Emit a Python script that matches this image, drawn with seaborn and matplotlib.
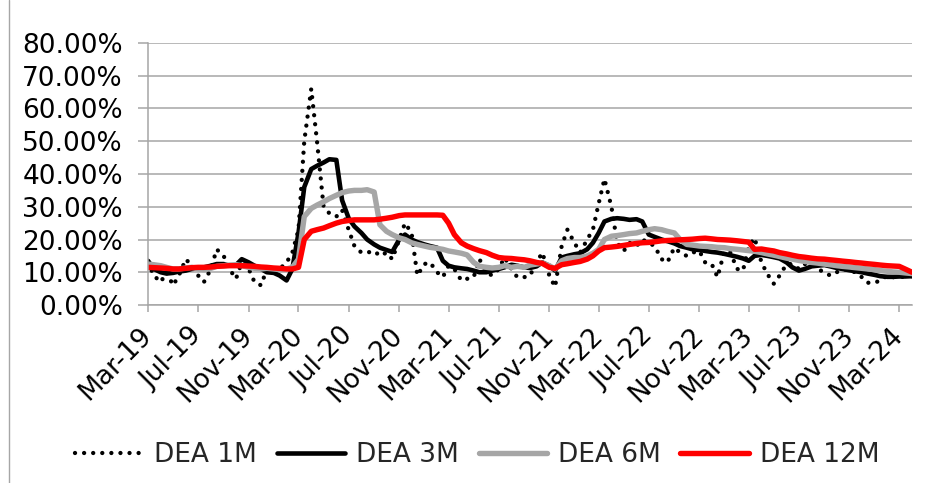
import matplotlib
matplotlib.use("Agg")
import matplotlib.pyplot as plt
import matplotlib.dates as mdates
from matplotlib.ticker import PercentFormatter, FixedLocator
from matplotlib.lines import Line2D
import seaborn as sns
import pandas as pd

# ---------------- data (percent) ----------------
dates = pd.date_range("2019-03-01", periods=123, freq="SMS")

dea_1m = [13, 9, 7, 10, 6, 9, 14, 12, 9, 7, 11, 17, 15, 11, 8, 13, 11, 7, 6, 11,
          10, 11, 13, 16, 23, 50, 66, 50, 30, 28, 27, 29, 23, 18, 16, 16, 16.5, 15, 16, 14,
          20, 25, 22, 9, 12.5, 13, 10, 8.5, 12, 11, 7.5, 8, 8.5, 14, 10, 9, 11, 14.5, 11, 8.5,
          8.5, 9, 13, 16, 9, 5.5, 18, 23, 19, 16, 20, 23, 31, 38.5, 30, 19, 16.5, 19, 18, 20,
          19, 18, 14, 13, 17.5, 16, 15, 16, 16.5, 13, 12.5, 8.5, 16.5, 16, 11, 10.5, 18, 20.5, 13, 9.5,
          6.5, 9, 12.5, 12.5, 11, 12.5, 12.5, 11, 10, 9, 10, 11, 10.5, 10, 8.5, 6.8, 6.8, 7.5, 9, 8.5,
          8.5, 8.7, 8.8]

dea_3m = [13.5, 11.0, 10.0, 9.6, 9.8, 10.2, 10.5, 11.0, 11.2, 11.5, 12.0, 12.5, 12.5, 12.0, 12.2, 14.0, 13.0, 12.0, 11.0, 10.0,
          9.8, 9.0, 7.5, 11.0, 22.0, 36.0, 41.5, 42.5, 43.5, 44.5, 44.3, 32.0, 26.5, 24.0, 22.0, 20.0, 18.5, 17.5, 16.8, 16.2,
          20.0, 21.5, 20.0, 19.2, 18.5, 18.0, 17.5, 13.5, 12.0, 11.5, 11.2, 11.0, 10.5, 10.0, 10.0, 10.5, 11.0, 11.5, 12.3, 12.0,
          11.5, 11.3, 11.8, 13.0, 12.0, 10.5, 14.5, 15.0, 15.5, 15.8, 17.0, 19.0, 22.0, 25.5, 26.3, 26.5, 26.3, 26.0, 26.2, 25.5,
          21.5, 20.8, 20.0, 19.5, 18.8, 18.0, 17.5, 17.0, 16.8, 16.5, 16.2, 16.0, 15.6, 15.2, 14.7, 14.2, 13.5, 15.0, 15.3, 15.0,
          14.6, 14.2, 13.0, 11.5, 10.5, 11.0, 11.8, 12.0, 12.2, 11.8, 11.3, 11.0, 10.6, 10.3, 10.0, 9.6, 9.2, 8.8, 8.6, 8.6,
          8.7, 8.7, 8.8]

dea_6m = [12.5, 12.3, 12.0, 11.5, 11.0, 11.0, 11.3, 11.5, 11.0, 10.8, 11.2, 11.8, 12.0, 12.2, 12.3, 12.0, 11.5, 11.2, 11.0, 11.2,
          11.0, 10.8, 11.0, 11.5, 14.0, 27.0, 29.5, 30.5, 31.5, 32.5, 33.5, 34.3, 34.8, 35.0, 35.0, 35.2, 34.5, 24.5, 22.5, 21.5,
          20.5, 20.0, 19.0, 18.5, 18.0, 17.6, 17.3, 17.0, 16.5, 16.2, 15.8, 15.3, 13.0, 11.8, 11.5, 11.3, 11.5, 12.0, 11.5, 11.8,
          11.5, 12.2, 12.5, 12.8, 12.0, 11.0, 13.5, 14.2, 14.5, 14.5, 15.0, 15.8, 17.0, 20.0, 21.0, 21.2, 21.5, 21.8, 22.0, 22.5,
          23.0, 23.3, 23.0, 22.5, 22.0, 20.0, 18.5, 18.3, 18.0, 17.9, 17.8, 17.6, 17.5, 17.2, 17.0, 16.8, 16.6, 16.4, 16.0, 15.6,
          15.2, 14.8, 14.3, 14.0, 13.6, 13.3, 13.0, 12.8, 12.5, 12.3, 12.0, 11.8, 11.6, 11.4, 11.2, 11.0, 10.8, 10.5, 10.3, 10.1,
          10.0, 9.8, 9.6]

dea_12m = [11.5, 11.4, 11.3, 11.2, 11.0, 11.0, 11.2, 11.4, 11.5, 11.5, 11.6, 11.8, 11.9, 12.0, 12.0, 12.0, 11.9, 11.8, 11.6, 11.5,
           11.3, 11.2, 11.0, 11.0, 11.5, 20.0, 22.5, 23.0, 23.5, 24.2, 25.0, 25.5, 25.8, 26.0, 26.0, 26.0, 26.0, 26.2, 26.5, 26.8,
           27.3, 27.5, 27.5, 27.5, 27.5, 27.5, 27.5, 27.4, 25.0, 21.5, 19.0, 18.0, 17.2, 16.6, 16.0, 15.2, 14.5, 14.3, 14.2, 14.0,
           13.8, 13.5, 13.0, 12.7, 11.5, 11.2, 12.3, 12.6, 13.0, 13.3, 14.0, 15.0, 16.5, 17.5, 17.7, 17.9, 18.2, 18.5, 18.8, 19.0,
           19.1, 19.3, 19.6, 19.7, 19.8, 19.9, 20.0, 20.1, 20.3, 20.4, 20.2, 20.0, 19.9, 19.8, 19.6, 19.4, 19.2, 17.0, 17.1, 16.8,
           16.5, 16.0, 15.6, 15.2, 14.8, 14.6, 14.3, 14.1, 14.0, 13.8, 13.6, 13.4, 13.2, 13.0, 12.8, 12.6, 12.4, 12.2, 12.0, 11.9,
           11.8, 11.0, 10.0]

series_names = ["DEA 1M", "DEA 3M", "DEA 6M", "DEA 12M"]
y_ticks = [0, 10, 20, 30, 40, 50, 60, 70, 80]
x_ticks = pd.date_range("2019-03-01", "2024-03-01", freq="4MS")

df = pd.DataFrame({"date": dates, "DEA 1M": dea_1m, "DEA 3M": dea_3m,
                   "DEA 6M": dea_6m, "DEA 12M": dea_12m})

# ---------------- style ----------------
sns.set_style("white")
plt.rcParams["font.family"] = ["DejaVu Sans"]

GRID = "#A6A6A6"
styles = {
    "DEA 1M": dict(color="black", linewidth=3.1),
    "DEA 3M": dict(color="black", linewidth=3.3),
    "DEA 6M": dict(color="#A6A6A6", linewidth=3.9),
    "DEA 12M": dict(color="#FF0000", linewidth=3.9),
}

fig = plt.figure(figsize=(9.27, 4.83), dpi=100)
ax = fig.add_axes([148 / 927, 1 - 305 / 483, (912 - 148) / 927, (305 - 43) / 483])

handles = []
for name in series_names:
    sns.lineplot(data=df, x="date", y=name, ax=ax, estimator=None, sort=False,
                 label=name, **styles[name])
    ln = ax.lines[-1]
    ln.set_solid_capstyle("round")
    ln.set_solid_joinstyle("round")
    if name == "DEA 1M":
        ln.set_linestyle((0, (0.01, 2.1)))
        ln.set_dash_capstyle("round")
    handles.append(ln)

ax.set_ylim(0, 80)
ax.set_xlim(pd.Timestamp("2019-03-01"), pd.Timestamp("2024-04-01"))
ax.yaxis.set_major_locator(FixedLocator(y_ticks))
ax.yaxis.set_major_formatter(PercentFormatter(decimals=2))
ax.set_xticks(x_ticks)
ax.xaxis.set_major_formatter(mdates.DateFormatter("%b-%y"))
ax.set_xlabel("")
ax.set_ylabel("")

ax.yaxis.grid(True, color=GRID, linewidth=1.1)
ax.xaxis.grid(False)
ax.set_axisbelow(True)
for s in ["top", "right"]:
    ax.spines[s].set_visible(False)
for s in ["left", "bottom"]:
    ax.spines[s].set_color(GRID)
    ax.spines[s].set_linewidth(1.1)

ax.tick_params(axis="y", direction="out", length=7, width=1.1, color=GRID,
               pad=11, labelsize=19, labelcolor="black", left=True)
ax.tick_params(axis="x", direction="out", length=5, width=1.1, color=GRID,
               pad=14, labelsize=19, labelcolor="black", bottom=True)
for lab in ax.get_xticklabels():
    lab.set_rotation(45)
    lab.set_ha("right")
    lab.set_va("center")
    lab.set_rotation_mode("anchor")

ax.legend(handles=handles, labels=series_names, loc="center",
          bbox_to_anchor=(477 / 927, 1 - 455 / 483), bbox_transform=fig.transFigure,
          ncol=4, frameon=False, fontsize=19, handlelength=2.6,
          handletextpad=0.4, columnspacing=0.75)

fig.add_artist(Line2D([9 / 927, 9 / 927], [0, 1], transform=fig.transFigure,
                      color=GRID, linewidth=1))

fig.savefig("out.png", dpi=100)
